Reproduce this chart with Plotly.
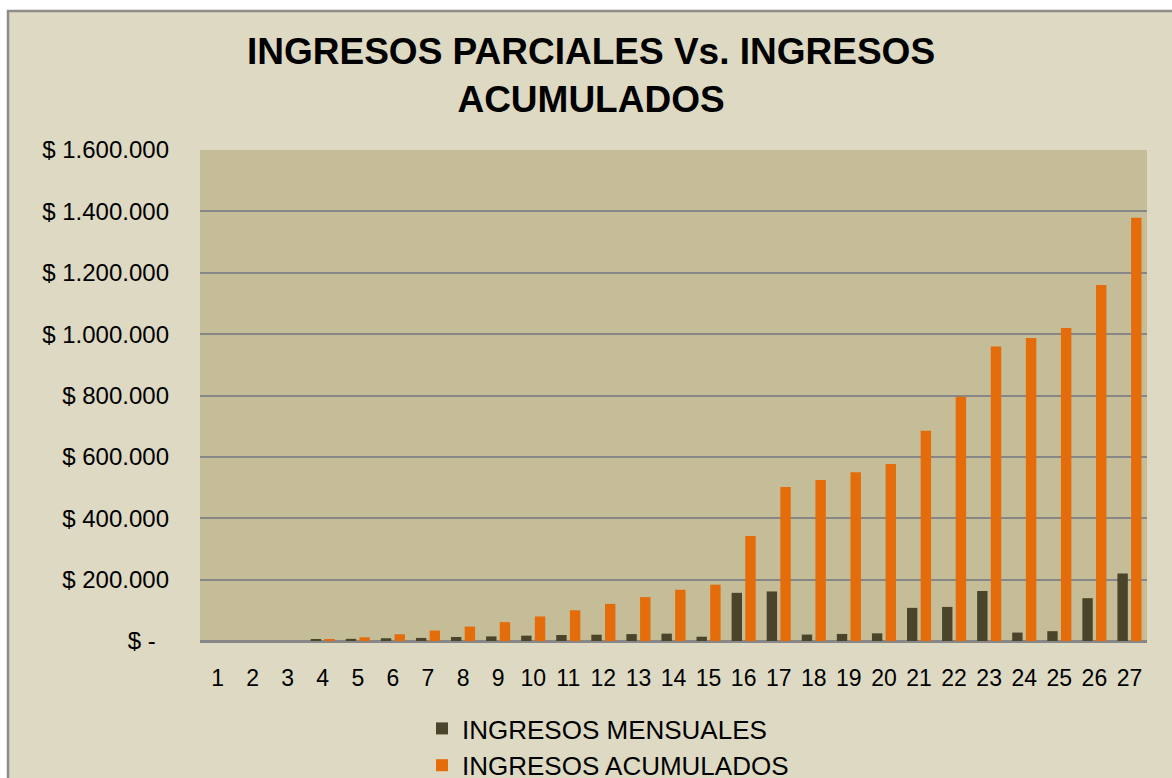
import plotly.graph_objects as go

# Monthly periods 1..27
periods = [str(i) for i in range(1, 28)]

# Income for each month
ingresos_mensuales = [0, 0, 0, 4500, 7000, 9000, 10000, 13000, 15000, 17500,
                      19500, 20500, 22500, 24000, 14000, 157000, 161500, 21000,
                      23000, 25000, 108000, 111000, 163000, 27500, 32000,
                      139500, 220000]

# Running total of income
ingresos_acumulados = [0, 0, 0, 4500, 12000, 22000, 34000, 47000, 61500, 80000,
                       100000, 121000, 143000, 167000, 183500, 342000, 502000,
                       525000, 550000, 577000, 685000, 796000, 960000, 987000,
                       1020000, 1160000, 1379000]

# Y-axis ticks
y_ticks = [0, 200000, 400000, 600000, 800000, 1000000, 1200000, 1400000, 1600000]


def money(v):
    if v == 0:
        return "$ -\u00a0\u00a0"
    return "$ " + f"{v:,}".replace(",", ".")


y_ticktext = [money(v) for v in y_ticks]

W, H = 1172, 778
L, R, T, B = 200, 25, 150, 137
PW, PH = W - L - R, H - T - B


def px_x(p):
    return (p - L) / PW


def px_y(p):
    return (H - B - p) / PH


FONT = "Liberation Sans, Arial, sans-serif"
GRID = "#878787"

fig = go.Figure()
fig.add_trace(go.Bar(x=periods, y=ingresos_mensuales, name="INGRESOS MENSUALES",
                     marker=dict(color="#4A452A", line=dict(width=0))))
fig.add_trace(go.Bar(x=periods, y=ingresos_acumulados, name="INGRESOS ACUMULADOS",
                     marker=dict(color="#E46C0A", line=dict(width=0))))

shapes = [
    # white margin strips outside the chart frame
    dict(type="rect", xref="paper", yref="paper", x0=px_x(-5), x1=px_x(8),
         y0=px_y(800), y1=px_y(-5), fillcolor="white", line=dict(width=0), layer="above"),
    dict(type="rect", xref="paper", yref="paper", x0=px_x(-5), x1=px_x(1180),
         y0=px_y(10), y1=px_y(-5), fillcolor="white", line=dict(width=0), layer="above"),
    # frame border lines
    dict(type="line", xref="paper", yref="paper", x0=px_x(8), x1=px_x(8),
         y0=px_y(800), y1=px_y(10), line=dict(color="#8C8C8C", width=2.5), layer="above"),
    dict(type="line", xref="paper", yref="paper", x0=px_x(7), x1=px_x(1180),
         y0=px_y(11), y1=px_y(11), line=dict(color="#8C8C8C", width=2.5), layer="above"),
]

title_note = dict(
    text="<b>INGRESOS PARCIALES Vs. INGRESOS<br>ACUMULADOS</b>",
    font=dict(family=FONT, size=37, color="black"),
    xref="paper", yref="paper", x=px_x(591), y=px_y(29),
    xanchor="center", yanchor="top", showarrow=False, align="center",
)

fig.update_layout(
    width=W, height=H,
    margin=dict(l=L, r=R, t=T, b=B, pad=0, autoexpand=False),
    paper_bgcolor="#DDD9C3",
    plot_bgcolor="#C4BD97",
    barmode="group",
    bargap=0.22,
    bargroupgap=0.24,
    font=dict(family=FONT, color="black"),
    xaxis=dict(type="category", showgrid=False, zeroline=False,
               showline=True, linecolor=GRID, linewidth=2,
               ticks="", tickfont=dict(size=23, family=FONT),
               ticklabelstandoff=15),
    yaxis=dict(range=[0, 1600000], tickvals=y_ticks, ticktext=y_ticktext,
               showgrid=True, gridcolor=GRID, gridwidth=2,
               zeroline=True, zerolinecolor=GRID, zerolinewidth=2,
               showline=False, ticks="", tickfont=dict(size=24, family=FONT),
               ticklabelstandoff=30),
    legend=dict(orientation="v", xref="container", yref="container",
                x=422 / W, xanchor="left",
                y=1 - 705 / H, yanchor="top", bgcolor="rgba(0,0,0,0)",
                font=dict(size=26, family=FONT), traceorder="normal",
                itemwidth=30, tracegroupgap=0),
    annotations=[title_note],
    shapes=shapes,
    showlegend=True,
)

fig.write_html("out.html")
